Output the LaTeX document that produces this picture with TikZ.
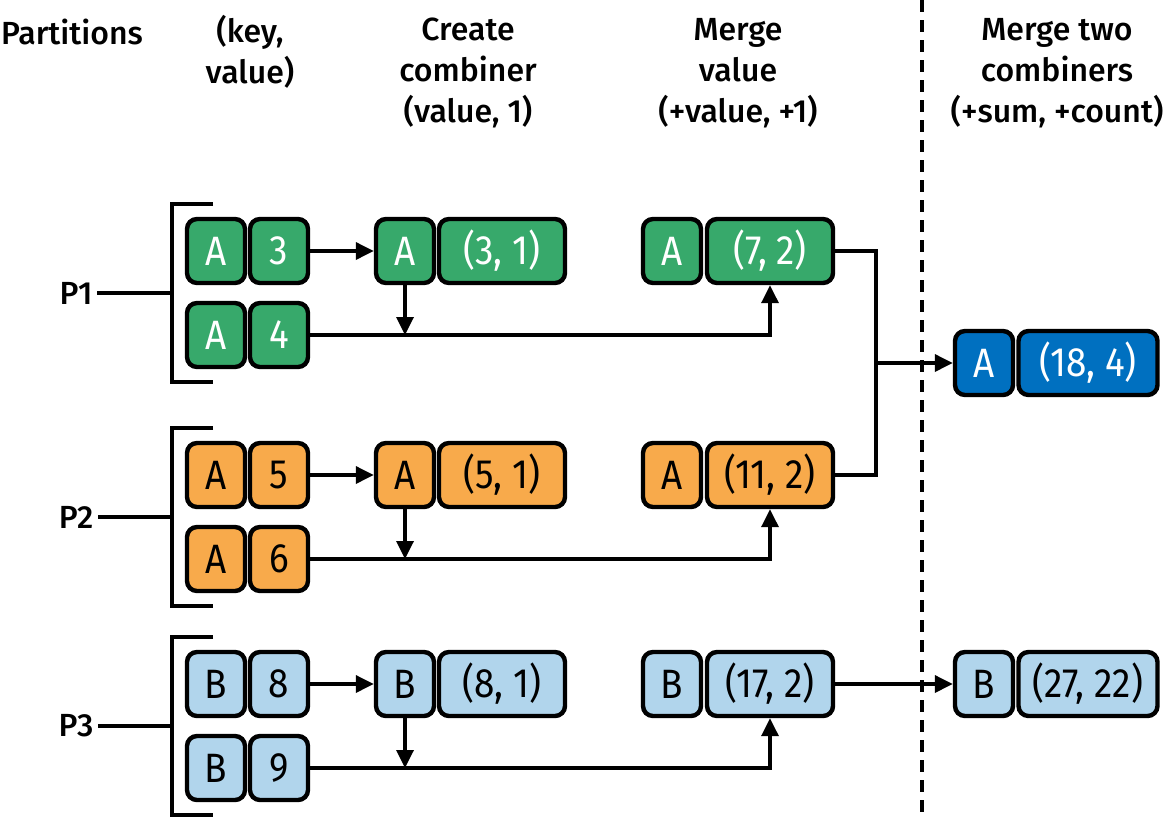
\documentclass[tikz,border=0pt]{standalone}
\usepackage{fontspec}
\setmainfont{Fira Sans}[BoldFont={Fira Sans Medium}]
\newfontfamily\cellfont{Fira Sans}[FakeStretch=0.9]
\usepackage{tikz}
\usetikzlibrary{arrows.meta}
\definecolor{pgreen}{HTML}{37A96B}
\definecolor{porange}{HTML}{F8AA4B}
\definecolor{plight}{HTML}{B1D5EC}
\definecolor{pblue}{HTML}{0070C0}
\tikzset{
every picture/.style={line width=3.4pt},
cell/.style={draw, line width=4.4pt, rounded corners=10pt, minimum height=64pt, inner sep=0pt, font=\cellfont\fontsize{41}{41}\selectfont},
short/.style={cell, minimum width=58pt},
long/.style={cell, minimum width=126pt},
wide/.style={cell, minimum width=139pt},
head/.style={align=center, font=\fontsize{32}{41}\selectfont\bfseries},
tip/.style={-{Triangle[length=18pt,width=17pt]}}
}

\begin{document}
\begin{tikzpicture}[x=1pt, y=-1pt]
  \useasboundingbox (0,0) rectangle (1172,817);
  \node[head] (hpart) at (72,32) {Partitions};
  \node[head] (hkey) at (250,52) {(key,\\value)};
  \node[head] (hcreate) at (468,73) {Create\\combiner\\(value, 1)};
  \node[head] (hmerge) at (738,73) {Merge\\value\\(+value, +1)};
  \node[head] (hcomb) at (1057,73) {Merge two\\combiners\\(+sum, +count)};
  \draw[line width=3.4pt, dash pattern=on 12pt off 8pt] (922,0) -- (922,817);
  \foreach \p/\y/\k/\u/\v/\cu/\cv/\col/\txt in {1/251/A/3/4/{(3, 1)}/{(7, 2)}/pgreen/white,
      2/475/A/5/6/{(5, 1)}/{(11, 2)}/porange/black,
      3/684/B/8/9/{(8, 1)}/{(17, 2)}/plight/black} {
    \node[short, fill=\col, text=\txt] (k\p) at (216,\y) {\k};
    \node[short, fill=\col, text=\txt] (v\p) at (279,\y) {\u};
    \node[short, fill=\col, text=\txt] (kk\p) at (216,\y+84) {\k};
    \node[short, fill=\col, text=\txt] (vv\p) at (279,\y+84) {\v};
    \node[short, fill=\col, text=\txt] (ca\p) at (405,\y) {\k};
    \node[long, fill=\col, text=\txt] (ct\p) at (502,\y) {\cu};
    \node[short, fill=\col, text=\txt] (ma\p) at (672,\y) {\k};
    \node[long, fill=\col, text=\txt] (mt\p) at (770,\y) {\cv};
    \draw[tip] (v\p) -- (ca\p);
    \draw[tip] (ca\p.south) -- (ca\p.south |- vv\p);
    \draw[tip] (vv\p.east) -| (mt\p.south);
    % bracket of the partition
    \draw (213,\y-47) -- (172,\y-47) -- (172,\y+131) -- (213,\y+131);
    \coordinate (b\p) at (172,\y+42);
    \node[head] (p\p) at (76,\y+42) {P\p};
    \draw (p\p.east) -- (b\p);
  }
  \node[short, fill=pblue, text=white] (fa) at (984,363) {A};
  \node[wide, fill=pblue, text=white] (ft) at (1088,363) {(18, 4)};
  \node[short, fill=plight] (fb) at (984,684) {B};
  \node[wide, fill=plight] (fbt) at (1088,684) {(27, 22)};
  \coordinate (jn) at (876,363);
  \draw (mt1.east) -| (jn) |- (mt2.east);
  \draw[tip] (jn) -- (fa);
  \draw[tip] (mt3) -- (fb);
\end{tikzpicture}
\end{document}
